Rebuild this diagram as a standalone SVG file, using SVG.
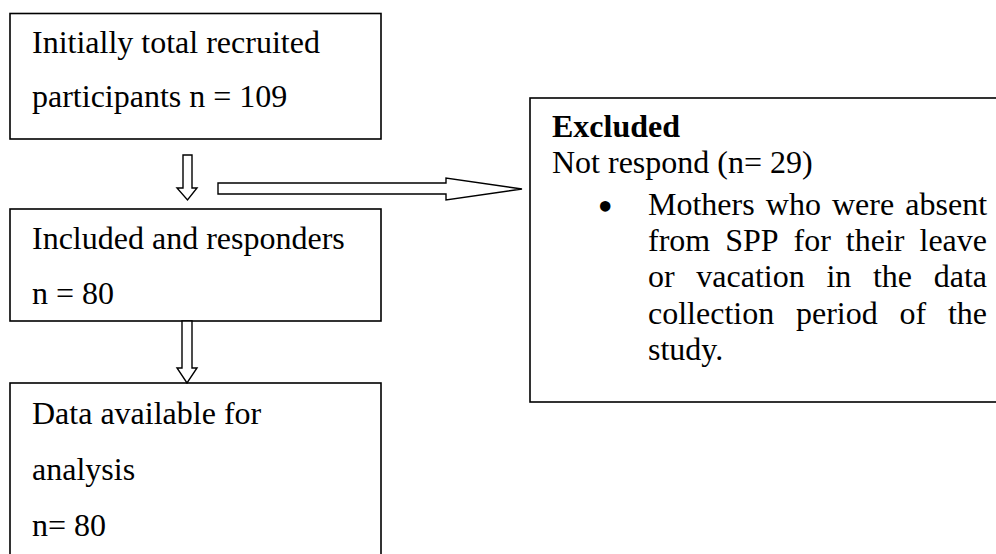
<svg xmlns="http://www.w3.org/2000/svg" width="996" height="554" viewBox="0 0 996 554">
<style>
.box{fill:#fff;stroke:#000;stroke-width:1.6}
.arr{fill:#fff;stroke:#000;stroke-width:1.4;stroke-linejoin:miter}
.t{font-family:"Liberation Serif","Times New Roman",serif;font-size:32px;fill:#000}
.b{font-weight:bold}
.bul{font-family:"Liberation Serif","Times New Roman",serif;font-size:44px;fill:#000}
</style>
<rect width="996" height="554" fill="#fff"/>
<g id="n1">
<rect class="box" x="10" y="13.5" width="371" height="125.5"/>
<text class="t" x="32" y="53">Initially total recruited</text>
<text class="t" x="32" y="106.5">participants n = 109</text>
</g>
<g id="n2">
<rect class="box" x="10" y="209" width="371" height="112"/>
<text class="t" x="32" y="249">Included and responders</text>
<text class="t" x="32" y="304">n = 80</text>
</g>
<g id="n3">
<rect class="box" x="10" y="383" width="371" height="190"/>
<text class="t" x="32" y="424">Data available for</text>
<text class="t" x="32" y="480">analysis</text>
<text class="t" x="32" y="536">n= 80</text>
</g>
<g id="n4">
<rect class="box" x="530" y="98" width="490" height="304"/>
<text class="t b" x="552" y="137">Excluded</text>
<text class="t" x="552" y="173">Not respond (n= 29)</text>
<text class="bul" x="597.5" y="221">•</text>
<text class="t" y="215"><tspan x="648">Mothers</tspan><tspan x="765.8">who</tspan><tspan x="832">were</tspan><tspan x="905.3">absent</tspan></text>
<text class="t" y="251"><tspan x="648">from</tspan><tspan x="725.2">SPP</tspan><tspan x="793.6">for</tspan><tspan x="845.8">their</tspan><tspan x="919.5">leave</tspan></text>
<text class="t" y="287"><tspan x="648">or</tspan><tspan x="696.3">vacation</tspan><tspan x="826.4">in</tspan><tspan x="872.9">the</tspan><tspan x="933.7">data</tspan></text>
<text class="t" y="323.5"><tspan x="648">collection</tspan><tspan x="796">period</tspan><tspan x="899.5">of</tspan><tspan x="947.9">the</tspan></text>
<text class="t" x="648" y="360">study.</text>
</g>
<g id="connectors">
<polygon class="arr" points="183,155 192,155 192,188 197,188 187.5,200 177,188 183,188"/>
<polygon class="arr" points="218,183 446,183 446,178 522,189 446,200 446,194 218,194"/>
<polygon class="arr" points="182,321 192,321 192,368 197,368 187,383 177,368 182,368"/>
</g>
</svg>
